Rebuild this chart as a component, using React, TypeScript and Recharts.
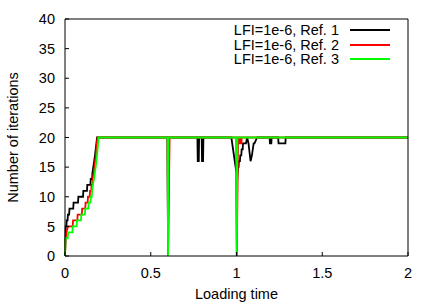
import { LineChart, Line, XAxis, YAxis, Legend } from "recharts";

// [loading time, number of iterations]
const ref1: [number, number][] = [
  [0, 0], [0.004, 5], [0.008, 5], [0.01, 6], [0.015, 6], [0.017, 7], [0.024, 7], [0.026, 8],
  [0.048, 8], [0.05, 9], [0.076, 9], [0.078, 10], [0.105, 10], [0.107, 11], [0.128, 11],
  [0.13, 12], [0.148, 12], [0.15, 13], [0.158, 13], [0.16, 14], [0.165, 15], [0.17, 16],
  [0.175, 17], [0.179, 18], [0.183, 19], [0.187, 20],
  [0.597, 20], [0.601, 0], [0.604, 20],
  [0.772, 20], [0.774, 16], [0.78, 16], [0.782, 20], [0.797, 20], [0.799, 16], [0.805, 16], [0.807, 20],
  [0.97, 20], [1.0, 14], [1.002, 0], [1.004, 13], [1.009, 15], [1.012, 15], [1.014, 16],
  [1.02, 16], [1.022, 17], [1.028, 17], [1.03, 18], [1.036, 18], [1.038, 19], [1.055, 19],
  [1.062, 20], [1.07, 19], [1.082, 16], [1.09, 17], [1.095, 18], [1.1, 19], [1.105, 19], [1.12, 20],
  [1.193, 20], [1.195, 19], [1.203, 19], [1.205, 20], [1.243, 20], [1.245, 19], [1.285, 19], [1.287, 20],
  [2, 20],
];

const ref2: [number, number][] = [
  [0, 0], [0.004, 3], [0.008, 4], [0.018, 5], [0.045, 5], [0.047, 6], [0.072, 6], [0.074, 7],
  [0.098, 7], [0.1, 8], [0.118, 8], [0.12, 9], [0.132, 9], [0.134, 10], [0.144, 10], [0.146, 11],
  [0.153, 11], [0.155, 12], [0.16, 12], [0.162, 13], [0.167, 14], [0.172, 15], [0.176, 16],
  [0.18, 17], [0.183, 18], [0.186, 19], [0.19, 20],
  [0.598, 20], [0.601, 0], [0.61, 20],
  [0.999, 20], [1.002, 0], [1.009, 20], [1.017, 20], [1.018, 19], [1.02, 19], [1.021, 20],
  [1.026, 20], [1.027, 19], [1.029, 19], [1.03, 20],
  [2, 20],
];

const ref3: [number, number][] = [
  [0, 0], [0.003, 3], [0.016, 3], [0.018, 4], [0.043, 4], [0.045, 5], [0.068, 5], [0.07, 6],
  [0.093, 6], [0.095, 7], [0.116, 7], [0.118, 8], [0.136, 8], [0.138, 9], [0.148, 9], [0.15, 10],
  [0.156, 10], [0.158, 11], [0.163, 12], [0.169, 13], [0.174, 14], [0.179, 15], [0.183, 16],
  [0.187, 17], [0.19, 18], [0.193, 19], [0.196, 20],
  [0.598, 20], [0.601, 0], [0.604, 20],
  [0.999, 20], [1.002, 0], [1.005, 20],
  [2, 20],
];

const series = [
  { name: "LFI=1e-6, Ref. 1", color: "#000000", points: ref1 },
  { name: "LFI=1e-6, Ref. 2", color: "#ff0000", points: ref2 },
  { name: "LFI=1e-6, Ref. 3", color: "#00ff00", points: ref3 },
];

const xTicks = [0, 0.5, 1, 1.5, 2];
const yTicks = [0, 5, 10, 15, 20, 25, 30, 35, 40];

const font = "'Liberation Sans', Arial, sans-serif";
const fs = 14.5;

const LegendBox = () => (
  <div style={{ width: 190, fontFamily: font, fontSize: fs, color: "#000" }}>
    {series.map((s) => (
      <div
        key={s.name}
        style={{
          display: "flex",
          justifyContent: "flex-end",
          alignItems: "center",
          height: 14.5,
          lineHeight: "14.5px",
        }}
      >
        <span>{s.name}</span>
        <span
          style={{
            display: "inline-block",
            width: 40,
            height: 2,
            marginLeft: 11,
            background: s.color,
          }}
        />
      </div>
    ))}
  </div>
);

export default function App() {
  const tickStyle = { fontSize: fs, fill: "#000", fontFamily: font };
  return (
    <div style={{ position: "absolute", left: 0, top: 0, fontFamily: font }}>
      <LineChart
        width={436}
        height={305}
        margin={{ top: 18, right: 27, left: 0, bottom: 0 }}
      >
        <XAxis
          xAxisId="b"
          dataKey="t"
          type="number"
          domain={[0, 2]}
          ticks={xTicks}
          height={49}
          tickSize={-4}
          tickMargin={15.5}
          tick={tickStyle}
          stroke="#000"
          allowDuplicatedCategory={false}
          label={{
            value: "Loading time",
            position: "insideBottom",
            offset: 6,
            style: { fontSize: fs, fill: "#000", fontFamily: font },
          }}
        />
        <XAxis
          xAxisId="top"
          orientation="top"
          type="number"
          domain={[0, 2]}
          ticks={xTicks}
          height={1}
          tickSize={-4}
          tickFormatter={() => ""}
          stroke="#000"
        />
        <YAxis
          yAxisId="l"
          type="number"
          domain={[0, 40]}
          ticks={yTicks}
          width={65}
          tickSize={-4}
          tickMargin={14}
          tick={tickStyle}
          stroke="#000"
          label={{
            value: "Number of iterations",
            angle: -90,
            position: "center",
            dx: -20,
            style: { fontSize: fs, fill: "#000", fontFamily: font },
          }}
        />
        <YAxis
          yAxisId="r"
          orientation="right"
          type="number"
          domain={[0, 40]}
          ticks={yTicks}
          width={1}
          tickSize={-4}
          tickFormatter={() => ""}
          stroke="#000"
        />
        <Legend
          layout="vertical"
          align="center"
          verticalAlign="middle"
          content={() => <LegendBox />}
          wrapperStyle={{ left: 200, top: 23, width: 190 }}
        />
        {series.map((s) => (
          <Line
            key={s.name}
            xAxisId="b"
            yAxisId="l"
            name={s.name}
            data={s.points.map(([t, n]) => ({ t, n }))}
            dataKey="n"
            type="linear"
            stroke={s.color}
            strokeWidth={1.8}
            dot={false}
            activeDot={false}
            isAnimationActive={false}
          />
        ))}
      </LineChart>
    </div>
  );
}
